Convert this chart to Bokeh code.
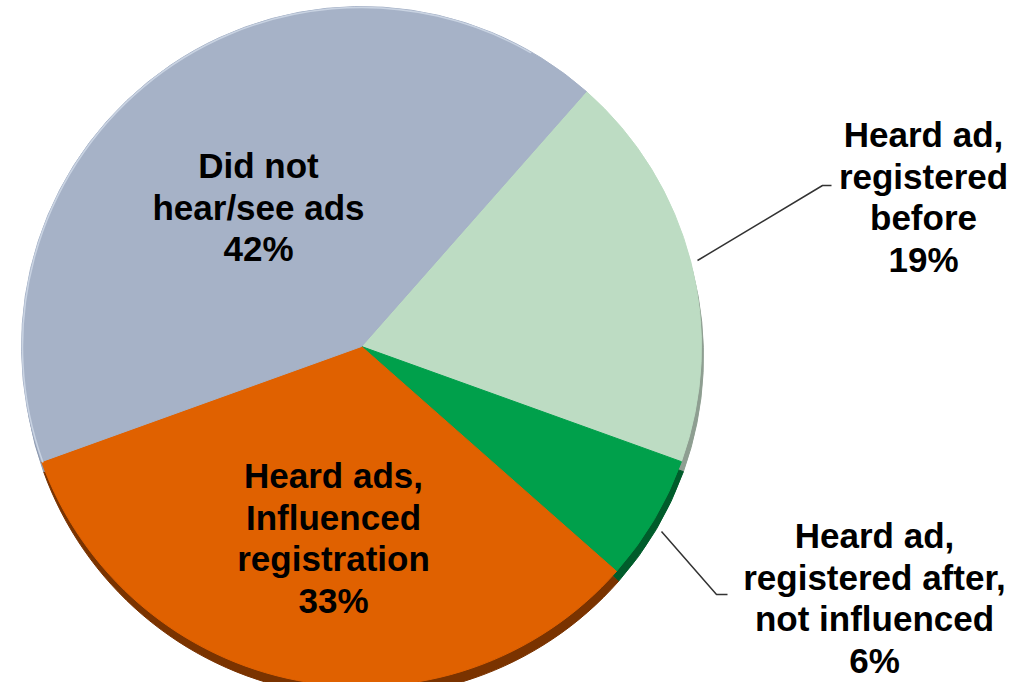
import math
from bokeh.plotting import figure
from bokeh.models import Range1d
from bokeh.core.properties import value
from bokeh.embed import file_html
from bokeh.resources import INLINE

# ---- data (clockwise from the light-green slice) ----
categories = ["Heard ad,\nregistered\nbefore",
              "Heard ad,\nregistered after,\nnot influenced",
              "Heard ads,\nInfluenced\nregistration",
              "Did not\nhear/see ads"]
values = [19, 6, 33, 42]
colors = ["#BDDCC3", "#00A04B", "#E06100", "#A6B2C7"]
side_colors = ["#8E9E91", "#005C2B", "#7A3300", "#8E9AB0"]

W, H = 1015, 682
REF_H = 698
p = figure(width=W, height=H, output_backend="svg", toolbar_location=None,
           x_range=Range1d(0, W), y_range=Range1d(REF_H - H, REF_H),
           min_border=0, x_axis_location=None, y_axis_location=None)
p.grid.visible = False
p.outline_line_color = None
p.background_fill_color = "white"
p.border_fill_color = "white"

def Y(py):
    return REF_H - py

cx, cy, r = 361, Y(346), 340
start = math.radians(48.6)
total = sum(values)
starts, ends = [], []
a = start
for v in values:
    starts.append(a)
    a = a - v / total * 2 * math.pi
    ends.append(a)

# 3D side (offset darker copy)
p.wedge(x=cx + 2, y=cy - 10, radius=r, start_angle=starts, end_angle=ends,
        direction="clock", fill_color=side_colors, line_color=side_colors)
# top face
p.wedge(x=cx, y=cy, radius=r, start_angle=starts, end_angle=ends,
        direction="clock", fill_color=colors, line_color=colors, line_width=1)
# thin highlight rim on the upper-left edge
p.arc(x=cx, y=cy, radius=r - 1, start_angle=math.radians(200), end_angle=math.radians(60),
      direction="clock", line_color="#C9D3E2", line_width=1.5)

# leader lines
p.line(x=[697, 822, 831], y=[Y(260), Y(185), Y(185)], line_color="#333333", line_width=1.5)
p.line(x=[661, 716, 727], y=[Y(531), Y(594), Y(594)], line_color="#333333", line_width=1.5)

# labels
label_pos = [(923, 134), (874, 535), (333, 475), (258, 165)]
step = 41.5
xs, ys, ts = [], [], []
for cat, v, (lx, ly) in zip(categories, values, label_pos):
    lines = cat.split("\n") + [f"{v}%"]
    for i, t in enumerate(lines):
        xs.append(lx)
        ys.append(Y(ly + i * step))
        ts.append(t)
p.text(x=xs, y=ys, text=ts, text_align="center", text_baseline="middle",
       text_font=value("Liberation Sans"), text_font_style="bold",
       text_font_size="35px", text_color="black")

open("out.html", "w").write(file_html(p, INLINE))
